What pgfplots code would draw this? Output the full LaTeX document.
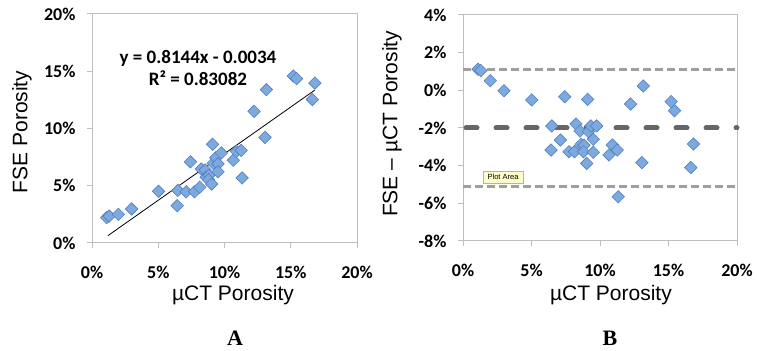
\documentclass[border=0pt]{standalone}
\usepackage{pgfplots}
\pgfplotsset{compat=1.18}
\usepackage{fontspec}
\setmainfont{Liberation Sans}
\newfontfamily\calfont{Carlito}
\newfontfamily\tmsfont{Liberation Serif}
\definecolor{mk}{RGB}{125,169,222}
\definecolor{mkedge}{RGB}{80,128,190}
\definecolor{frame}{RGB}{190,190,190}
\begin{document}
\begin{tikzpicture}
\path[use as bounding box] (0,0) rectangle (757bp,351bp);
\pgfplotsset{
  myax/.style={
    scale only axis,
    axis line style={frame, line width=1bp},
    tick style={frame, line width=1bp},
    tick align=outside,
    major tick length=5bp,
    xtick pos=bottom, ytick pos=left,
    ticklabel style={font=\calfont\bfseries\fontsize{18bp}{20bp}\selectfont, text=black},
    xmin=0, xmax=20,
    xtick={0,5,10,15,20},
    xticklabels={0\%,5\%,10\%,15\%,20\%},
    xticklabel style={yshift=-15bp},
    yticklabel style={xshift=-8bp},
  },
  pts/.style={only marks, mark=square*, mark size=4.4bp,
    mark options={rotate=45, fill=mk, draw=mkedge, line width=0.6bp}},
}
% Left: FSE vs uCT
\begin{axis}[myax,
  at={(92bp,108bp)}, anchor=south west,
  width=265bp, height=229bp,
  ymin=0, ymax=20,
  ytick={0,5,10,15,20},
  yticklabels={0\%,5\%,10\%,15\%,20\%},
  xlabel={µCT Porosity}, ylabel={FSE Porosity},
  every axis x label/.style={at={(axis description cs:0.532,-0.227)}, anchor=center, font=\fontsize{21bp}{23bp}\selectfont},
  every axis y label/.style={at={(axis description cs:-0.264,0.485)}, anchor=center, rotate=90, font=\fontsize{21bp}{23bp}\selectfont},
]
\addplot[pts] coordinates {
(1.10,2.22) (1.30,2.35) (1.99,2.50) (2.99,2.97) (5.02,4.51) (6.48,4.59) (6.43,3.26)
(7.43,7.09) (7.11,4.47) (7.74,4.48) (8.25,6.46) (8.13,4.87) (8.54,6.38) (8.62,5.75)
(8.83,5.91) (8.79,5.53) (9.03,5.15) (9.10,8.62) (9.15,6.96) (9.34,7.45) (9.76,7.87)
(9.51,6.91) (9.51,6.22) (10.66,7.23) (10.90,8.00) (11.26,8.09) (11.33,5.68) (12.23,11.50)
(13.06,9.22) (13.16,13.39) (15.19,14.59) (15.44,14.36) (16.63,12.53) (16.82,13.97)
};
\addplot[black, line width=0.8bp] coordinates {(1.2,0.64) (16.8,13.34)};
\node[align=center, font=\calfont\bfseries\fontsize{19bp}{21bp}\selectfont, inner sep=0pt]
  at (axis cs:8,15.25) {y = 0.8144x - 0.0034\\[1bp]R² = 0.83082};
\end{axis}
% Right: difference
\begin{axis}[myax,
  at={(463bp,110bp)}, anchor=south west,
  width=274bp, height=226bp,
  ymin=-8, ymax=4,
  ytick={-8,-6,-4,-2,0,2,4},
  yticklabels={-8\%,-6\%,-4\%,-2\%,0\%,2\%,4\%},
  xlabel={µCT Porosity}, ylabel={FSE – µCT Porosity},
  every axis x label/.style={at={(axis description cs:0.54,-0.239)}, anchor=center, font=\fontsize{21bp}{23bp}\selectfont},
  every axis y label/.style={at={(axis description cs:-0.259,0.518)}, anchor=center, rotate=90, font=\fontsize{21bp}{23bp}\selectfont},
  clip=false,
]
\addplot[gray!75, line width=2.5bp, dash pattern=on 8bp off 4bp] coordinates {(0,1.1) (20,1.1)};
\addplot[gray!75, line width=2.5bp, dash pattern=on 8bp off 4bp] coordinates {(0,-5.1) (20,-5.1)};
\addplot[black!60, line width=5bp, line cap=round, dash pattern=on 11bp off 19bp, dash phase=-3bp] coordinates {(0,-2.0) (20,-2.0)};
\addplot[pts] coordinates {
(1.10,1.12) (1.30,1.05) (1.99,0.51) (2.99,-0.02) (5.02,-0.51) (6.48,-1.89) (6.43,-3.17)
(7.43,-0.34) (7.11,-2.64) (7.74,-3.26) (8.25,-1.79) (8.13,-3.26) (8.54,-2.16) (8.62,-2.87)
(8.83,-2.92) (8.79,-3.26) (9.03,-3.88) (9.10,-0.48) (9.15,-2.19) (9.34,-1.89) (9.76,-1.89)
(9.51,-2.60) (9.51,-3.29) (10.66,-3.43) (10.90,-2.90) (11.26,-3.17) (11.33,-5.65) (12.23,-0.73)
(13.06,-3.84) (13.16,0.23) (15.19,-0.60) (15.44,-1.08) (16.63,-4.10) (16.82,-2.85)
};
\node[draw=gray!60, fill=yellow!20, font=\fontsize{7.5bp}{8bp}\selectfont, inner sep=1.5bp, minimum width=40bp, minimum height=12bp]
  at (axis cs:2.92,-4.6) {Plot Area};
\end{axis}
\node[font=\tmsfont\bfseries\fontsize{22bp}{24bp}\selectfont] at (235bp,13bp) {A};
\node[font=\tmsfont\bfseries\fontsize{22bp}{24bp}\selectfont] at (610bp,13bp) {B};
\end{tikzpicture}
\end{document}
